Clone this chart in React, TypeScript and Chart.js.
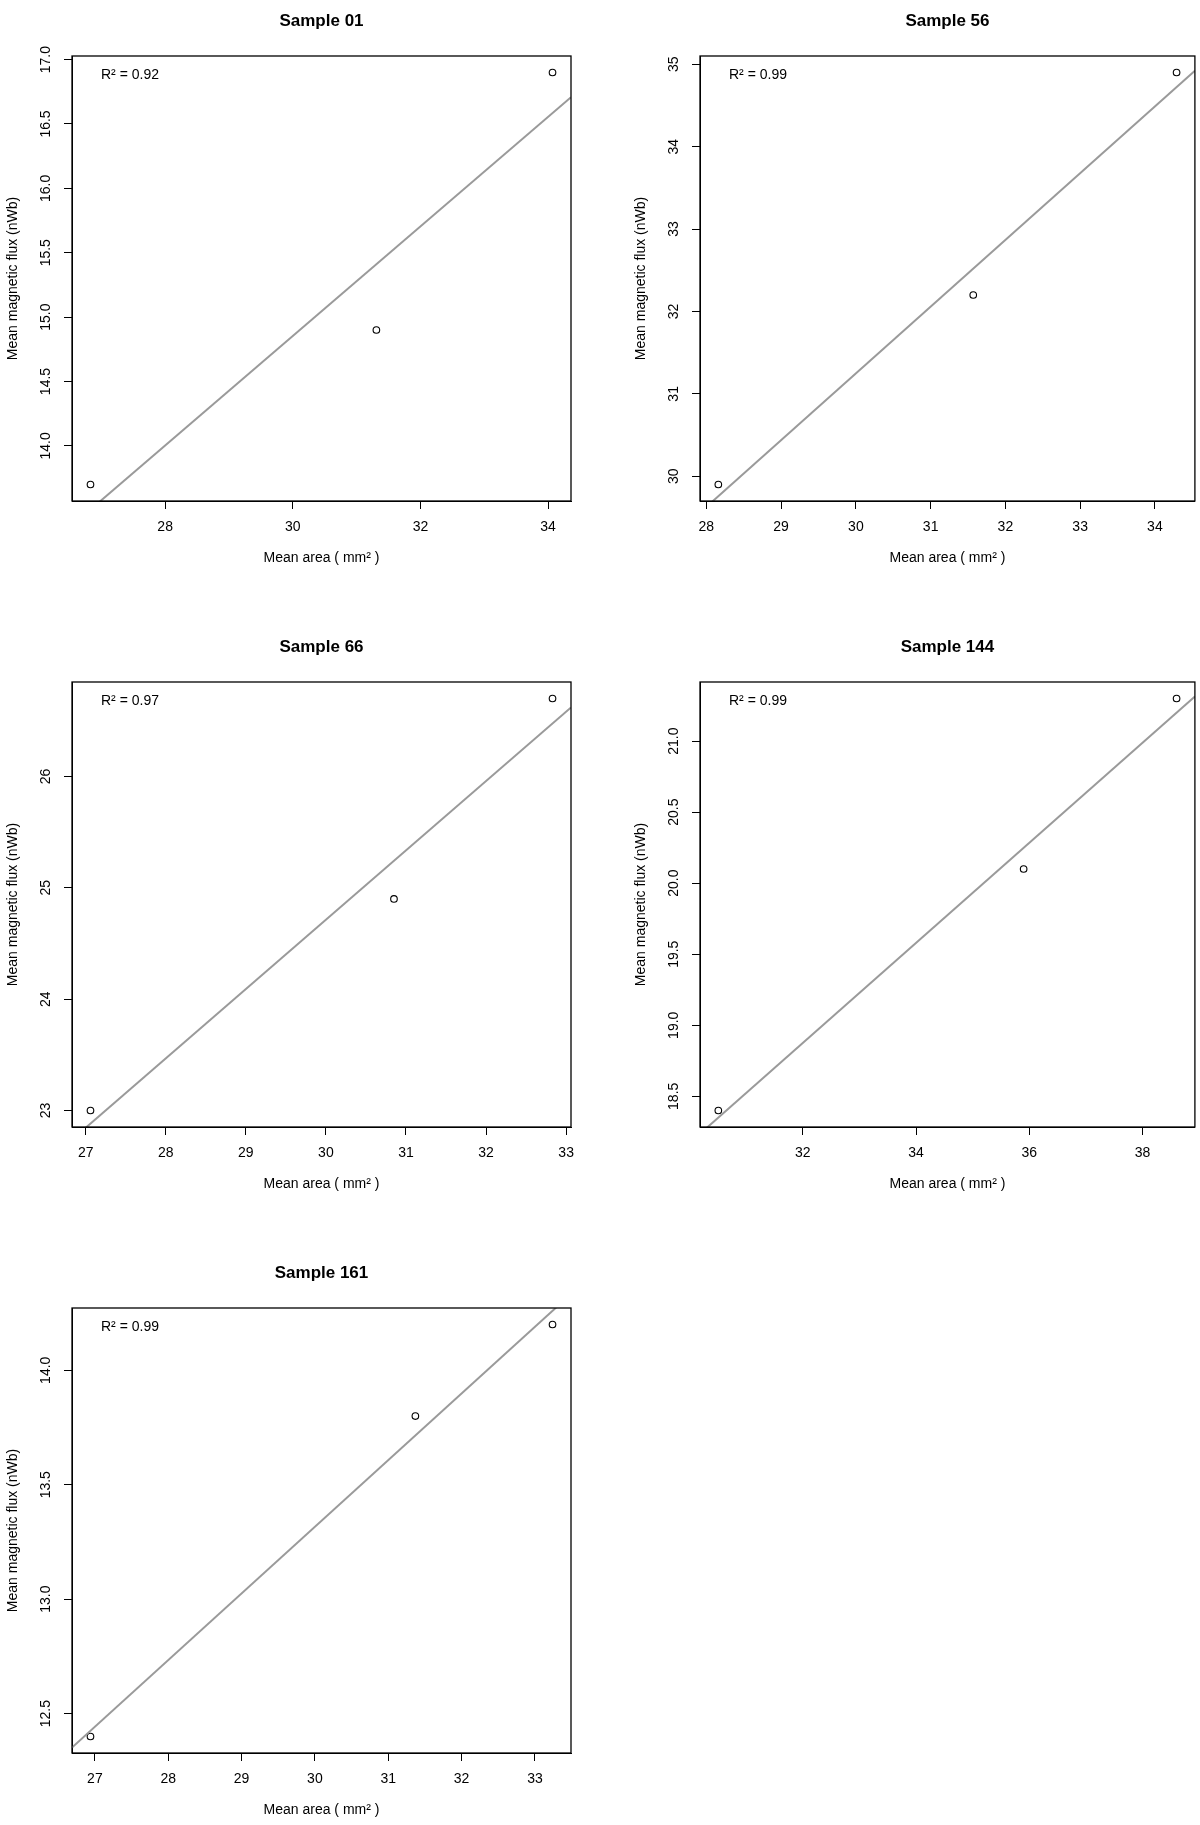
import React, { useEffect, useRef } from 'react';
import { Chart, registerables } from 'chart.js';

Chart.register(...registerables);
Chart.defaults.font.family = '"Liberation Sans", Arial, Helvetica, sans-serif';
Chart.defaults.color = '#000';

const FONT = '"Liberation Sans", Arial, Helvetica, sans-serif';

// data, one block per sample
const AREA_01 = [26.83, 31.31, 34.07];
const FLUX_01 = [13.7, 14.9, 16.9];
const X_TICKS_01 = ['28', '30', '32', '34'];
const Y_TICKS_01 = ['14.0', '14.5', '15.0', '15.5', '16.0', '16.5', '17.0'];

const AREA_56 = [28.16, 31.57, 34.29];
const FLUX_56 = [29.9, 32.2, 34.9];
const X_TICKS_56 = ['28', '29', '30', '31', '32', '33', '34'];
const Y_TICKS_56 = ['30', '31', '32', '33', '34', '35'];

const AREA_66 = [27.06, 30.85, 32.83];
const FLUX_66 = [23.0, 24.9, 26.7];
const X_TICKS_66 = ['27', '28', '29', '30', '31', '32', '33'];
const Y_TICKS_66 = ['23', '24', '25', '26'];

const AREA_144 = [30.51, 35.9, 38.6];
const FLUX_144 = [18.4, 20.1, 21.3];
const X_TICKS_144 = ['32', '34', '36', '38'];
const Y_TICKS_144 = ['18.5', '19.0', '19.5', '20.0', '20.5', '21.0'];

const AREA_161 = [26.94, 31.37, 33.24];
const FLUX_161 = [12.4, 13.8, 14.2];
const X_TICKS_161 = ['27', '28', '29', '30', '31', '32', '33'];
const Y_TICKS_161 = ['12.5', '13.0', '13.5', '14.0'];

const TITLES = ['Sample 01', 'Sample 56', 'Sample 66', 'Sample 144', 'Sample 161'];
const R2_LABELS = ['0.92', '0.99', '0.97', '0.99', '0.99'];

// R pads the data range by 4% on each side
const rRange = (v: number[]) => {
  const lo = Math.min(...v);
  const hi = Math.max(...v);
  const pad = (hi - lo) * 0.04;
  return [lo - pad, hi + pad];
};

// lm(flux ~ area)
const leastSquares = (x: number[], y: number[]) => {
  const mx = x.reduce((a, b) => a + b, 0) / x.length;
  const my = y.reduce((a, b) => a + b, 0) / y.length;
  let sxy = 0;
  let sxx = 0;
  x.forEach((xi, i) => {
    sxy += (xi - mx) * (y[i] - my);
    sxx += (xi - mx) * (xi - mx);
  });
  const slope = sxy / sxx;
  return { slope, intercept: my - slope * mx };
};

interface PanelProps {
  title: string;
  area: number[];
  flux: number[];
  xTicks: string[];
  yTicks: string[];
  r2: string;
  col: number;
  row: number;
}

const ScatterPanel: React.FC<PanelProps> = ({ title, area, flux, xTicks, yTicks, r2, col, row }) => {
  const canvasRef = useRef<HTMLCanvasElement>(null);

  useEffect(() => {
    const ctx = canvasRef.current?.getContext('2d');
    if (!ctx) return;

    const [xMin, xMax] = rRange(area);
    const [yMin, yMax] = rRange(flux);
    const { slope, intercept } = leastSquares(area, flux);
    const xVals = xTicks.map(Number);
    const yVals = yTicks.map(Number);

    const decor = {
      id: 'rDecor',
      afterDraw(chart: any) {
        const c = chart.ctx;
        const a = chart.chartArea;
        const yScale = chart.scales.y;
        c.save();
        c.strokeStyle = '#000';
        c.lineWidth = 1.3;
        c.strokeRect(a.left, a.top, a.right - a.left, a.bottom - a.top);

        c.fillStyle = '#000';
        c.font = `14px ${FONT}`;
        c.textAlign = 'center';
        c.textBaseline = 'middle';
        yTicks.forEach((lbl, i) => {
          const py = yScale.getPixelForValue(yVals[i]);
          c.save();
          c.translate(a.left - 26, py);
          c.rotate(-Math.PI / 2);
          c.fillText(lbl, 0, 0);
          c.restore();
        });

        c.font = `bold 17px ${FONT}`;
        c.fillText(title, (a.left + a.right) / 2, a.top - 35);

        c.font = `14px ${FONT}`;
        c.textAlign = 'left';
        c.fillText(`R\u00B2 = ${r2}`, a.left + 29, a.top + 19);
        c.restore();
      },
    };

    const chart = new Chart(ctx, {
      type: 'scatter',
      data: {
        datasets: [
          {
            type: 'line',
            data: [
              { x: xMin, y: intercept + slope * xMin },
              { x: xMax, y: intercept + slope * xMax },
            ],
            borderColor: '#9a9a9a',
            borderWidth: 2,
            pointRadius: 0,
            fill: false,
          },
          {
            type: 'scatter',
            data: area.map((x, i) => ({ x, y: flux[i] })),
            pointRadius: 3.3,
            borderWidth: 1.1,
            borderColor: '#000',
            backgroundColor: 'rgba(0,0,0,0)',
          },
        ],
      } as any,
      options: {
        animation: false,
        responsive: true,
        maintainAspectRatio: false,
        events: [],
        layout: { padding: { top: 56, left: 0, right: col ? 4 : 29, bottom: 0 } },
        plugins: {
          legend: { display: false },
          title: { display: false },
          tooltip: { enabled: false },
        },
        scales: {
          x: {
            type: 'linear',
            min: xMin,
            max: xMax,
            afterBuildTicks: (s: any) => {
              s.ticks = xVals.map((value) => ({ value }));
            },
            afterFit: (s: any) => {
              s.height = 72;
            },
            ticks: {
              autoSkip: false,
              maxRotation: 0,
              padding: 10,
              color: '#000',
              font: { size: 14 },
              callback: (v: any) => {
                const i = xVals.indexOf(Number(v));
                return i >= 0 ? xTicks[i] : '';
              },
            },
            grid: { drawOnChartArea: false, drawTicks: true, tickLength: 8, color: '#000', lineWidth: 1 },
            border: { display: true, color: '#000', width: 1 },
            title: {
              display: true,
              text: 'Mean area ( mm\u00B2 )',
              color: '#000',
              font: { size: 14 },
              padding: { top: 0, bottom: 6 },
            },
          },
          y: {
            type: 'linear',
            min: yMin,
            max: yMax,
            afterBuildTicks: (s: any) => {
              s.ticks = yVals.map((value) => ({ value }));
            },
            afterFit: (s: any) => {
              s.width = 72;
            },
            ticks: { display: false, autoSkip: false },
            grid: { drawOnChartArea: false, drawTicks: true, tickLength: 8, color: '#000', lineWidth: 1 },
            border: { display: true, color: '#000', width: 1 },
            title: {
              display: true,
              text: 'Mean magnetic flux (nWb)',
              color: '#000',
              font: { size: 14 },
              padding: { top: 5, bottom: 0 },
            },
          },
        },
      },
      plugins: [decor],
    });

    return () => {
      chart.destroy();
    };
  }, [title, area, flux, xTicks, yTicks, r2, col]);

  return (
    <div
      style={{
        position: 'absolute',
        left: col ? 628 : 0,
        top: row * 626,
        width: col ? 572 : 600,
        height: 573,
      }}
    >
      <canvas ref={canvasRef}></canvas>
    </div>
  );
};

const PANELS = [
  { area: AREA_01, flux: FLUX_01, xTicks: X_TICKS_01, yTicks: Y_TICKS_01 },
  { area: AREA_56, flux: FLUX_56, xTicks: X_TICKS_56, yTicks: Y_TICKS_56 },
  { area: AREA_66, flux: FLUX_66, xTicks: X_TICKS_66, yTicks: Y_TICKS_66 },
  { area: AREA_144, flux: FLUX_144, xTicks: X_TICKS_144, yTicks: Y_TICKS_144 },
  { area: AREA_161, flux: FLUX_161, xTicks: X_TICKS_161, yTicks: Y_TICKS_161 },
];

const App: React.FC = () => (
  <div style={{ position: 'absolute', left: 0, top: 0, width: 1200, height: 1825, background: '#fff' }}>
    {PANELS.map((p, i) => (
      <ScatterPanel
        key={TITLES[i]}
        title={TITLES[i]}
        area={p.area}
        flux={p.flux}
        xTicks={p.xTicks}
        yTicks={p.yTicks}
        r2={R2_LABELS[i]}
        col={i % 2}
        row={Math.floor(i / 2)}
      />
    ))}
  </div>
);

export default App;
